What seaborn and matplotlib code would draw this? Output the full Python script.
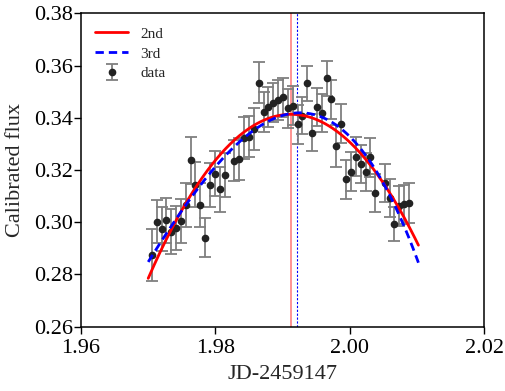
import numpy as np
import pandas as pd
import matplotlib
matplotlib.use("Agg")
import matplotlib.pyplot as plt
import seaborn as sns

# ---- data ----
time = [1.97052, 1.97126, 1.97201, 1.97265, 1.97339, 1.97414, 1.97488, 1.97558,
        1.97632, 1.97701, 1.97771, 1.97850, 1.97924, 1.97994, 1.98068, 1.98143,
        1.98281, 1.98356, 1.98430, 1.98500, 1.98570, 1.98641, 1.98716, 1.98787,
        1.98857, 1.98932, 1.99001, 1.99076, 1.99150, 1.99225, 1.99293, 1.99368,
        1.99438, 1.99512, 1.99582, 1.99656, 1.99725, 1.99799, 1.99869, 1.99943,
        2.00018, 2.00092, 2.00159, 2.00234, 2.00305, 2.00375, 2.00519, 2.00594,
        2.00662, 2.00737, 2.00811, 2.00885]
flux = [0.2875, 0.3002, 0.2973, 0.3007, 0.2964, 0.2977, 0.3005, 0.3066,
        0.3238, 0.3144, 0.3066, 0.2941, 0.3143, 0.3186, 0.3126, 0.3181,
        0.3236, 0.3242, 0.3321, 0.3328, 0.3357, 0.3535, 0.3423, 0.3441,
        0.3458, 0.3468, 0.3478, 0.3436, 0.3446, 0.3375, 0.3408, 0.3532,
        0.3343, 0.3442, 0.3419, 0.3551, 0.3471, 0.3292, 0.3377, 0.3164,
        0.3193, 0.3251, 0.3223, 0.3191, 0.3248, 0.3111, 0.3150, 0.3092,
        0.2993, 0.3062, 0.3068, 0.3075]
err = [0.0100, 0.0083, 0.0085, 0.0085, 0.0085, 0.0085, 0.0085, 0.0085,
       0.0090, 0.0085, 0.0085, 0.0075, 0.0085, 0.0085, 0.0085, 0.0085,
       0.0080, 0.0080, 0.0080, 0.0080, 0.0080, 0.0077, 0.0076, 0.0076,
       0.0076, 0.0076, 0.0076, 0.0075, 0.0075, 0.0075, 0.0072, 0.0067,
       0.0072, 0.0072, 0.0072, 0.0068, 0.0075, 0.0080, 0.0075, 0.0075,
       0.0075, 0.0075, 0.0073, 0.0073, 0.0073, 0.0073, 0.0073, 0.0073,
       0.0064, 0.0075, 0.0075, 0.0077]
peak_2nd = 1.99121
peak_3rd = 1.99219
fit_range = [1.9700, 2.0102]

x_ticks = [1.96, 1.98, 2.00, 2.02]
y_ticks = [0.26, 0.28, 0.30, 0.32, 0.34, 0.36, 0.38]

sns.set_theme(style="ticks")
plt.rcParams["font.family"] = ["Liberation Serif", "DejaVu Serif"]
plt.rcParams["mathtext.fontset"] = "stix"

t = np.array(time)
f = np.array(flux)
e = np.array(err)

tt = np.linspace(fit_range[0], fit_range[1], 300)
c2 = np.polyfit(t - 1.99, f, 2, w=1 / e)
c3 = np.polyfit(t - 1.99, f, 3, w=1 / e)
fits = pd.DataFrame({"t": tt,
                     "f2": np.polyval(c2, tt - 1.99),
                     "f3": np.polyval(c3, tt - 1.99)})

fig = plt.figure(figsize=(5.05, 3.91), dpi=100)
ax = fig.add_axes([0.1604, 0.1645, 0.7986, 0.8015])

ax.axvline(peak_2nd, color="#ff8080", lw=1.2, zorder=1)
ax.axvline(peak_3rd, color="blue", lw=0.8, ls=(0, (2, 1.5)), zorder=1)

sns.lineplot(data=fits, x="t", y="f2", ax=ax, color="red", lw=2.0,
             label="2nd", zorder=4)
sns.lineplot(data=fits, x="t", y="f3", ax=ax, color="blue", lw=2.0,
             ls=(0, (3, 1.8)), label="3rd", zorder=4)
ax.errorbar(t, f, yerr=e, fmt="o", ms=4.5, color="#222222", ecolor="#7f7f7f",
            elinewidth=1.3, capsize=4, capthick=1.3, label="data", zorder=3)

ax.set_xlim(1.96, 2.02)
ax.set_ylim(0.26, 0.38)
ax.set_xticks(x_ticks)
ax.set_yticks(y_ticks)
ax.set_xticklabels([f"{v:.2f}" for v in x_ticks])
ax.set_yticklabels([f"{v:.2f}" for v in y_ticks])
ax.tick_params(direction="out", length=5, width=1, labelsize=16,
               colors="black")
ax.tick_params(axis="x", pad=4)
ax.tick_params(axis="y", pad=1)
ax.set_xlabel("JD-2459147", fontsize=16, labelpad=5)
ax.set_ylabel("Calibrated flux", fontsize=16, labelpad=6)
for s in ax.spines.values():
    s.set_color("black")
    s.set_linewidth(1.1)
    s.set_visible(True)

leg = ax.legend(loc="upper left", frameon=False, fontsize=11,
                handlelength=2.2, borderaxespad=0.5, labelspacing=0.4,
                handletextpad=0.8)

fig.savefig("out.png", dpi=100)
